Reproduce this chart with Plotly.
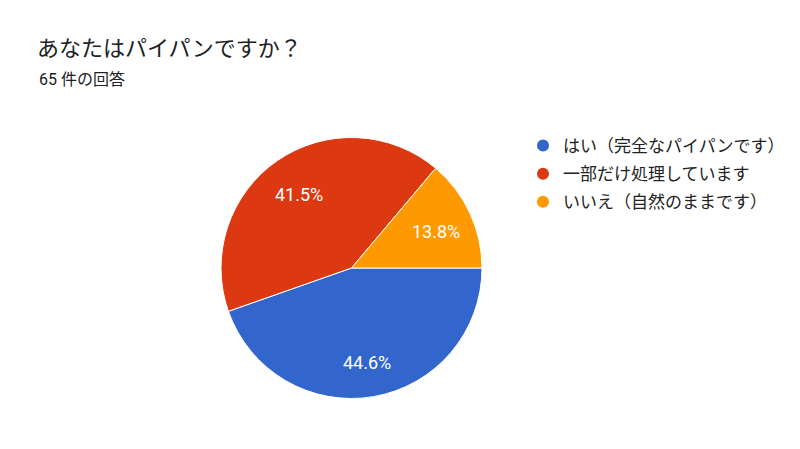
import plotly.graph_objects as go
import math

labels = ["はい（完全なパイパンです）", "一部だけ処理しています", "いいえ（自然のままです）"]
counts = [29, 27, 9]
colors = ["#3366CC", "#DC3912", "#FF9900"]
title_text = "あなたはパイパンですか？"
subtitle_text = "65 件の回答"

FONT = "Roboto, 'Noto Sans CJK JP', sans-serif"
W, H = 800, 449
cx, cy, r = 351.5, 268, 130.5

fig = go.Figure()
fig.add_trace(go.Pie(
    labels=labels, values=counts, sort=False, direction="clockwise", rotation=90,
    marker=dict(colors=colors, line=dict(color="white", width=1)),
    textinfo="none", hoverinfo="label+percent", showlegend=False,
    domain=dict(x=[(cx - r) / W, (cx + r) / W], y=[1 - (cy + r) / H, 1 - (cy - r) / H]),
))

# percentage labels placed along each slice's mid-angle
total = sum(counts)
start = 0.0
for v in counts:
    frac = v / total
    mid = (start + frac / 2) * 2 * math.pi
    d = 0.71 * r
    px = cx + d * math.cos(mid)
    py = cy + d * math.sin(mid)
    fig.add_annotation(x=px / W, y=1 - py / H, xref="paper", yref="paper",
                       xanchor="center", yanchor="middle", yshift=-3,
                       text=f"{frac*100:.1f}%", showarrow=False,
                       font=dict(family=FONT, size=18, color="white"))
    start += frac

for i, (lab, col) in enumerate(zip(labels, colors)):
    fig.add_trace(go.Scatter(x=[None], y=[None], mode="markers", name=lab,
                             legendgroup=f"g{i}",
                             marker=dict(color=col, size=16, symbol="circle")))

fig.update_layout(
    width=W, height=H, margin=dict(l=0, r=0, t=0, b=0),
    paper_bgcolor="white", plot_bgcolor="white",
    xaxis=dict(visible=False), yaxis=dict(visible=False),
    title=dict(text=title_text, x=37 / W, xanchor="left", y=1 - 48 / H, yanchor="middle",
               font=dict(family=FONT, size=22, color="#202124")),
    legend=dict(x=523 / W, y=1 - 128 / H, xanchor="left", yanchor="top",
                font=dict(family=FONT, size=17, color="#222222"),
                itemsizing="constant", bgcolor="rgba(0,0,0,0)", tracegroupgap=3),
    annotations=list(fig.layout.annotations) + [dict(
        text=subtitle_text, x=37 / W, y=1 - 80 / H, xref="paper", yref="paper",
        xanchor="left", yanchor="middle", showarrow=False,
        font=dict(family=FONT, size=16, color="#202124"))],
)
fig.write_html("out.html", config={"displayModeBar": False},
               post_script="document.body.style.margin='0';")
